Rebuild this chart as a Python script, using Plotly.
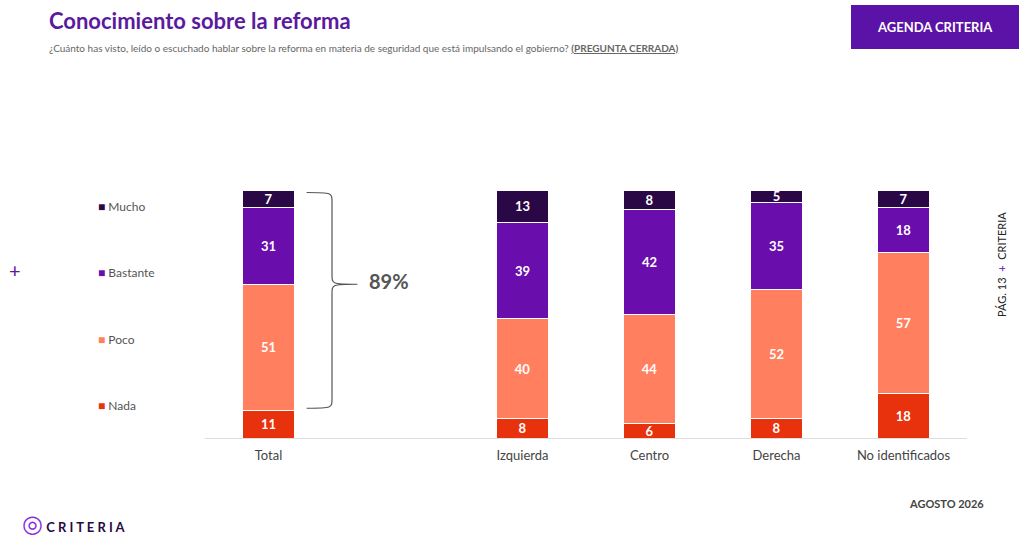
import plotly.graph_objects as go

categories = ["Total", "Izquierda", "Centro", "Derecha", "No identificados"]
positions = [0, 2, 3, 4, 5]
nada = [11, 8, 6, 8, 18]
poco = [51, 40, 44, 52, 57]
bastante = [31, 39, 42, 35, 18]
mucho = [7, 13, 8, 5, 7]
series = [("Nada", nada, "#E8320E"), ("Poco", poco, "#FF7F5F"),
          ("Bastante", bastante, "#6A0DAD"), ("Mucho", mucho, "#2A0845")]

fig = go.Figure()
for name, vals, col in series:
    fig.add_bar(x=positions, y=vals, name=name, marker=dict(color=col, line=dict(color="white", width=1)),
                width=0.41, text=[f"<b>{v}</b>" for v in vals], textposition="inside", insidetextanchor="middle",
                textangle=0, constraintext="none",
                textfont=dict(color="white", size=13, family="Lato"), showlegend=False, hoverinfo="skip")

fig.update_layout(
    barmode="stack", width=1024, height=543, plot_bgcolor="white", paper_bgcolor="white",
    margin=dict(l=205, r=57, t=190, b=105), font=dict(family="Lato", color="#444"),
    uniformtext=dict(minsize=12, mode="show"),
    xaxis=dict(range=[-0.5, 5.5], tickvals=positions, ticktext=categories, showgrid=False,
               showline=True, linecolor="#ddd", ticks="", ticklabelstandoff=5,
               tickfont=dict(size=13, color="#444"), zeroline=False),
    yaxis=dict(range=[0, 100], visible=False),
)

def px(x):
    return (x - 205) / 762

def py(y):
    return 1 - (y - 190) / 248

def note(x, y, text, xanchor="center", **kw):
    fig.add_annotation(xref="paper", yref="paper", x=px(x), y=py(y), text=text, showarrow=False,
                       xanchor=xanchor, yanchor="middle", **kw)

legend_y = {"Mucho": 206, "Bastante": 272, "Poco": 339, "Nada": 405}
for name, vals, col in series:
    note(96, legend_y[name], f"<span style='color:{col}'>■</span> {name}", xanchor="left",
         font=dict(size=12, color="#555"))

top, bot = 99, nada[0] + 1
mid = 62
x0, x1, x2 = 0.3, 0.5, 0.7
path = (f"M {x0},{top} C {x1},{top} {x1},{top} {x1},{top-4} "
        f"L {x1},{mid+4} C {x1},{mid} {x1},{mid} {x2},{mid} "
        f"C {x1},{mid} {x1},{mid} {x1},{mid-4} "
        f"L {x1},{bot+4} C {x1},{bot} {x1},{bot} {x0},{bot}")
fig.add_shape(type="path", path=path, xref="x", yref="y", line=dict(color="#555", width=1.2))
share = sum([poco[0], bastante[0], mucho[0]])
fig.add_annotation(x=0.95, y=mid + 1.5, xref="x", yref="y", text=f"<b>{share}%</b>", showarrow=False,
                   font=dict(size=20, color="#555"), xanchor="center", yanchor="middle")

note(47, 20, "<b>Conocimiento sobre la reforma</b>", xanchor="left", font=dict(size=22, color="#5B1A9E"))
note(47, 48, "¿Cuánto has visto, leído o escuchado hablar sobre la reforma en materia de seguridad que está impulsando el gobierno? <u><b>(PREGUNTA CERRADA)</b></u>",
     xanchor="left", font=dict(size=10, color="#666"))
fig.add_shape(type="rect", xref="paper", yref="paper", x0=px(851), x1=px(1019),
              y0=py(49), y1=py(5), fillcolor="#5B12A6", line=dict(width=0))
note(935, 27, "<b>AGENDA CRITERIA</b>", font=dict(size=13, color="white"))

note(15, 270, "+", font=dict(size=20, color="#5B1A9E"))
note(1001, 265, "PÁG. 13  <span style='color:#7B2FBE'><b>+</b></span>  CRITERIA", textangle=-90,
     font=dict(size=11, color="#222"))

note(986, 503, "<b>AGOSTO 2026</b>", xanchor="right", font=dict(size=11, color="#444"))
note(20, 522, "<span style='color:#8A2BE2;font-size:24px'>◎</span> <b>C R I T E R I A</b>",
     xanchor="left", font=dict(size=13, color="#2A0845"))

fig.write_html("out.html", config={"displayModeBar": False},
               post_script="document.body.style.margin='0';document.body.style.overflow='hidden';")
